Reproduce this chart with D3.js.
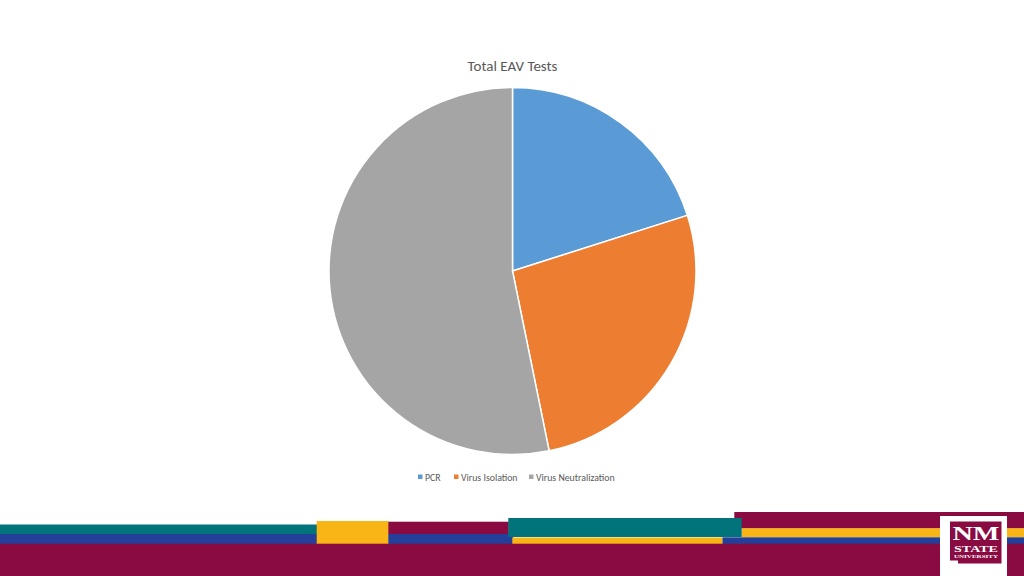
<!DOCTYPE html>
<html>
<head>
<meta charset="utf-8">
<script src="https://cdn.jsdelivr.net/npm/d3@7"></script>
<style>
html,body{margin:0;padding:0;background:#fff;}
svg{display:block;}
</style>
</head>
<body>
<svg id="chart" width="1024" height="576"></svg>
<script>
const categories = ["PCR", "Virus Isolation", "Virus Neutralization"];
const values = [20.1, 26.7, 53.2];
const colors = ["#5B9BD5", "#ED7D31", "#A5A5A5"];
const title = "Total EAV Tests";
const logoLines = ["NM", "STATE", "UNIVERSITY"];

const svg = d3.select("#chart");
const font = "Carlito, Calibri, Lato, 'Open Sans', sans-serif";

// Title
svg.append("text")
  .attr("x", 512.5).attr("y", 71)
  .attr("text-anchor", "middle")
  .attr("font-family", font)
  .attr("font-size", 15)
  .attr("fill", "#595959")
  .text(title);

// Pie
const cx = 512.5, cy = 271, r = 183.5;
const pie = d3.pie().sort(null).value(d => d);
const arc = d3.arc().innerRadius(0).outerRadius(r);
const g = svg.append("g").attr("transform", `translate(${cx},${cy})`);
g.selectAll("path")
  .data(pie(values))
  .join("path")
  .attr("d", arc)
  .attr("fill", (d, i) => colors[i])
  .attr("stroke", "#fff")
  .attr("stroke-width", 1.5);

// Legend
const legendX = [418, 454, 529];
const lg = svg.append("g");
categories.forEach((c, i) => {
  lg.append("rect")
    .attr("x", legendX[i]).attr("y", 474.5)
    .attr("width", 4.5).attr("height", 4.5)
    .attr("fill", colors[i]);
  lg.append("text")
    .attr("x", legendX[i] + 7).attr("y", 480.5)
    .attr("font-family", font)
    .attr("font-size", 9.8)
    .attr("fill", "#595959")
    .text(c);
});

// Footer decoration
const maroon = "#8A0A42", teal = "#00747A", blue = "#233F99", yellow = "#F9B515";
const bands = [
  [0, 524.5, 317, 9.5, teal],
  [0, 534, 317, 10, blue],
  [316.7, 521, 72, 23, yellow],
  [388.3, 521.7, 120.5, 12.5, maroon],
  [388.3, 534, 125, 10, blue],
  [734.3, 512, 290, 16.5, maroon],
  [741.7, 528.3, 283, 9, yellow],
  [722.3, 537.3, 302, 7, blue],
  [512.3, 537.5, 210, 6.5, yellow],
  [508.3, 518, 233.4, 19, teal],
  [0, 543.7, 1024, 33, maroon]
];
svg.append("g").selectAll("rect").data(bands).join("rect")
  .attr("x", d => d[0]).attr("y", d => d[1])
  .attr("width", d => d[2]).attr("height", d => d[3])
  .attr("fill", d => d[4]);

// Logo
const logo = svg.append("g");
logo.append("rect").attr("x", 940).attr("y", 516).attr("width", 67).attr("height", 60).attr("fill", "#fff");
logo.append("path")
  .attr("d", "M950,521.5 L1001.5,521.5 L1001.5,563.5 L958,563.5 L958,560.5 L950,560.5 Z")
  .attr("fill", maroon);
const serif = "'Liberation Serif', 'DejaVu Serif', serif";
const logoText = logo.append("text")
  .attr("text-anchor", "middle")
  .attr("font-family", serif).attr("font-weight", "bold")
  .attr("fill", "#fff");
const logoY = [539.5, 551.5, 557.8], logoSize = [18, 9, 4.5], logoLen = [47, 44, 44];
logoLines.forEach((t, i) => {
  logoText.append("tspan")
    .attr("x", 976).attr("y", logoY[i])
    .attr("font-size", logoSize[i])
    .attr("textLength", logoLen[i]).attr("lengthAdjust", "spacingAndGlyphs")
    .text(t);
});
</script>
</body>
</html>
